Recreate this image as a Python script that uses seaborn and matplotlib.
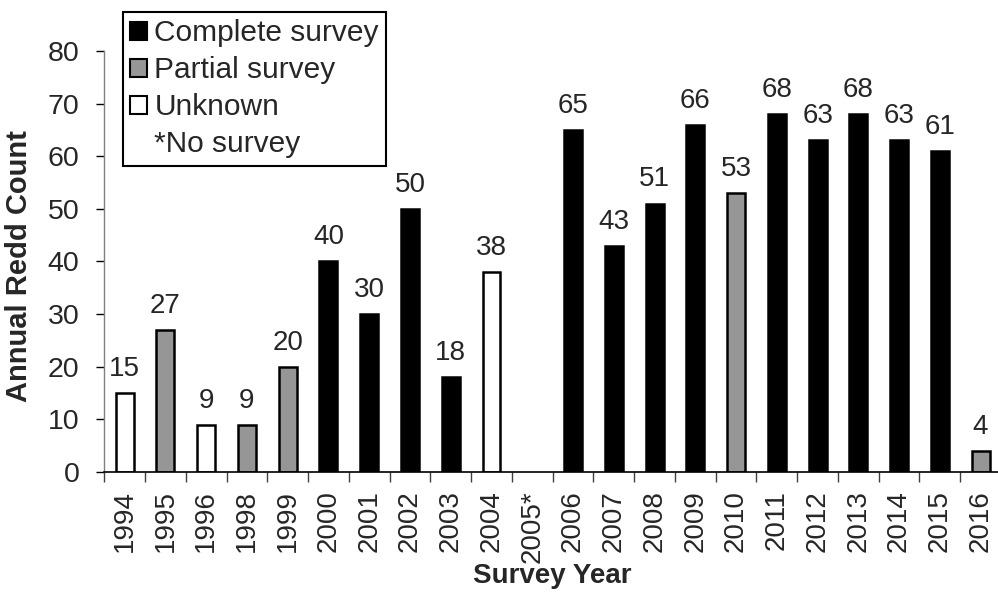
import pandas as pd
import numpy as np
import seaborn as sns
import matplotlib.pyplot as plt
from matplotlib.patches import Patch
from matplotlib.ticker import FixedLocator

# survey years (2005 had no survey, kept as an empty slot)
years = ["1994", "1995", "1996", "1998", "1999", "2000", "2001", "2002",
         "2003", "2004", "2005*", "2006", "2007", "2008", "2009", "2010",
         "2011", "2012", "2013", "2014", "2015", "2016"]
redds = [15, 27, 9, 9, 20, 40, 30, 50, 18, 38, np.nan, 65, 43, 51, 66, 53,
         68, 63, 68, 63, 61, 4]
status = ["Unknown", "Partial survey", "Unknown", "Partial survey", "Partial survey",
          "Complete survey", "Complete survey", "Complete survey", "Complete survey",
          "Unknown", "No survey", "Complete survey", "Complete survey",
          "Complete survey", "Complete survey", "Partial survey", "Complete survey",
          "Complete survey", "Complete survey", "Complete survey", "Complete survey",
          "Partial survey"]

levels = ["Complete survey", "Partial survey", "Unknown"]
colors = {"Complete survey": "#000000", "Partial survey": "#969696", "Unknown": "#ffffff"}

df = pd.DataFrame({"year": years, "redds": redds, "status": status})
surveyed = df.dropna(subset=["redds"])

sns.set_style("ticks")
plt.rcParams["font.family"] = ["Liberation Sans", "DejaVu Sans"]

fig = plt.figure(figsize=(9.98, 5.92), dpi=100)
ax = fig.add_axes([0.1045, 0.2027, 0.8985, 0.7112])

sns.barplot(data=surveyed, x="year", y="redds", hue="status", order=years,
            hue_order=levels, palette=colors, dodge=False, width=0.44,
            edgecolor="black", linewidth=1.8, errorbar=None, legend=False, ax=ax)

for cont in ax.containers:
    ax.bar_label(cont, fmt="{:.0f}", padding=8, fontsize=20)

ax.set_xlim(-0.5, len(years) - 0.5)
ax.set_ylim(0, 80)
ax.set_yticks(range(0, 81, 10))
ax.tick_params(axis="y", labelsize=20.5, length=6, width=1, pad=12, color="black")
ax.tick_params(axis="x", which="major", labelsize=20, length=0, pad=13, rotation=90)
ax.xaxis.set_minor_locator(FixedLocator(np.arange(-0.5, len(years), 1.0)))
ax.tick_params(axis="x", which="minor", length=7, width=1, color="#404040")

for side in ["top", "right"]:
    ax.spines[side].set_visible(False)
ax.spines["left"].set_color("#808080")
ax.spines["left"].set_linewidth(1)
ax.spines["bottom"].set_color("black")
ax.spines["bottom"].set_linewidth(1.2)

ax.set_ylabel("Annual Redd Count", fontsize=21, fontweight="bold")
ax.set_xlabel("Survey Year", fontsize=20, fontweight="bold")
ax.yaxis.set_label_coords(-0.08, 0.49)
ax.xaxis.set_label_coords(0.5, -0.215)

handles = [Patch(facecolor=colors[k], edgecolor="black", linewidth=1.5) for k in levels]
handles.append(Patch(facecolor="none", edgecolor="none"))
labels = levels + ["*No survey"]
leg = fig.legend(handles, labels, loc="upper left", bbox_to_anchor=(0.1232, 0.9797),
                 bbox_transform=fig.transFigure, borderaxespad=0, fontsize=21.5,
                 frameon=True, fancybox=False, edgecolor="black", framealpha=1,
                 handlelength=0.55, handleheight=0.55, handletextpad=0.25,
                 labelspacing=0.3, borderpad=0.25)
leg.get_frame().set_linewidth(1.5)

fig.savefig("out.png", dpi=100)
